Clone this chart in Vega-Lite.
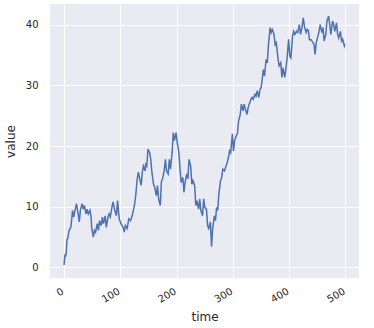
{
  "$schema": "https://vega.github.io/schema/vega-lite/v6.json",
  "width": 309,
  "height": 274,
  "autosize": "none",
  "padding": {"left": 50, "top": 4, "right": 15, "bottom": 50},
  "background": "white",
  "config": {
    "view": {"fill": "#EAEAF2", "stroke": null},
    "font": "DejaVu Sans",
    "axis": {
      "domain": false,
      "ticks": false,
      "grid": true,
      "gridColor": "white",
      "gridWidth": 1,
      "labelColor": "#262626",
      "titleColor": "#262626",
      "labelFontSize": 10,
      "titleFontSize": 12,
      "titleFontWeight": "normal",
      "labelFont": "DejaVu Sans",
      "titleFont": "DejaVu Sans"
    }
  },
  "data": {
    "values": [
      {"time": 0, "value": 0.4}, {"time": 1, "value": 1.5}, {"time": 2, "value": 2.2}, {"time": 3, "value": 1.8},
      {"time": 4, "value": 2.6}, {"time": 5, "value": 4.4}, {"time": 7, "value": 5.0}, {"time": 9, "value": 6.1},
      {"time": 12, "value": 6.6}, {"time": 14, "value": 8.3}, {"time": 15, "value": 9.4}, {"time": 17, "value": 8.3},
      {"time": 20, "value": 9.6}, {"time": 22, "value": 10.5}, {"time": 25, "value": 8.8}, {"time": 27, "value": 7.5},
      {"time": 29, "value": 9.4}, {"time": 32, "value": 10.5}, {"time": 34, "value": 9.6}, {"time": 36, "value": 10.2},
      {"time": 39, "value": 8.8}, {"time": 41, "value": 9.6}, {"time": 43, "value": 8.8}, {"time": 46, "value": 9.4},
      {"time": 48, "value": 8.3}, {"time": 49, "value": 6.6}, {"time": 52, "value": 5.0}, {"time": 54, "value": 6.1},
      {"time": 56, "value": 5.8}, {"time": 59, "value": 7.2}, {"time": 61, "value": 6.1}, {"time": 63, "value": 7.7},
      {"time": 66, "value": 6.9}, {"time": 68, "value": 8.3}, {"time": 70, "value": 7.2}, {"time": 73, "value": 8.5},
      {"time": 75, "value": 6.6}, {"time": 78, "value": 8.3}, {"time": 80, "value": 8.8}, {"time": 82, "value": 8.3},
      {"time": 85, "value": 9.9}, {"time": 87, "value": 10.8}, {"time": 90, "value": 9.4}, {"time": 93, "value": 8.5},
      {"time": 95, "value": 11.0}, {"time": 98, "value": 8.0}, {"time": 101, "value": 7.2}, {"time": 105, "value": 6.6},
      {"time": 107, "value": 5.8}, {"time": 109, "value": 6.9}, {"time": 112, "value": 6.4}, {"time": 115, "value": 8.0},
      {"time": 118, "value": 7.7}, {"time": 121, "value": 8.5}, {"time": 125, "value": 10.2}, {"time": 127, "value": 11.6},
      {"time": 130, "value": 14.6}, {"time": 132, "value": 15.7}, {"time": 134, "value": 14.8}, {"time": 137, "value": 13.5},
      {"time": 139, "value": 15.7}, {"time": 141, "value": 16.7}, {"time": 144, "value": 15.9}, {"time": 145, "value": 17.0},
      {"time": 147, "value": 16.7}, {"time": 149, "value": 19.5}, {"time": 152, "value": 18.9}, {"time": 154, "value": 17.8},
      {"time": 156, "value": 15.7}, {"time": 159, "value": 13.7}, {"time": 161, "value": 13.2}, {"time": 164, "value": 11.8},
      {"time": 166, "value": 13.5}, {"time": 168, "value": 11.3}, {"time": 171, "value": 10.2}, {"time": 173, "value": 14.2},
      {"time": 175, "value": 14.6}, {"time": 178, "value": 16.0}, {"time": 180, "value": 17.8}, {"time": 182, "value": 15.9},
      {"time": 185, "value": 15.4}, {"time": 187, "value": 17.8}, {"time": 189, "value": 16.2}, {"time": 192, "value": 18.9},
      {"time": 194, "value": 22.2}, {"time": 196, "value": 20.9}, {"time": 199, "value": 22.2}, {"time": 201, "value": 20.6},
      {"time": 204, "value": 18.9}, {"time": 206, "value": 16.2}, {"time": 208, "value": 14.0}, {"time": 211, "value": 14.8},
      {"time": 213, "value": 12.4}, {"time": 215, "value": 14.0}, {"time": 218, "value": 15.4}, {"time": 220, "value": 14.6},
      {"time": 222, "value": 17.8}, {"time": 225, "value": 16.7}, {"time": 227, "value": 13.7}, {"time": 229, "value": 14.3},
      {"time": 232, "value": 13.5}, {"time": 234, "value": 10.2}, {"time": 236, "value": 11.0}, {"time": 239, "value": 9.6},
      {"time": 241, "value": 11.3}, {"time": 243, "value": 9.4}, {"time": 246, "value": 8.5}, {"time": 248, "value": 11.3},
      {"time": 250, "value": 9.9}, {"time": 253, "value": 9.6}, {"time": 255, "value": 6.9}, {"time": 257, "value": 6.4},
      {"time": 260, "value": 7.5}, {"time": 262, "value": 3.4}, {"time": 264, "value": 6.4}, {"time": 267, "value": 8.5},
      {"time": 269, "value": 7.7}, {"time": 271, "value": 9.9}, {"time": 273, "value": 9.4}, {"time": 275, "value": 12.1},
      {"time": 278, "value": 14.3}, {"time": 280, "value": 14.8}, {"time": 282, "value": 16.2}, {"time": 285, "value": 15.9},
      {"time": 287, "value": 16.5}, {"time": 289, "value": 17.0}, {"time": 292, "value": 18.1}, {"time": 294, "value": 19.2},
      {"time": 296, "value": 18.9}, {"time": 299, "value": 22.0}, {"time": 301, "value": 19.2}, {"time": 303, "value": 20.9},
      {"time": 306, "value": 21.7}, {"time": 308, "value": 22.0}, {"time": 310, "value": 24.1}, {"time": 313, "value": 25.2},
      {"time": 315, "value": 26.9}, {"time": 318, "value": 25.8}, {"time": 320, "value": 26.9}, {"time": 322, "value": 26.1},
      {"time": 325, "value": 25.2}, {"time": 327, "value": 26.3}, {"time": 329, "value": 26.9}, {"time": 332, "value": 27.7},
      {"time": 334, "value": 28.0}, {"time": 336, "value": 27.7}, {"time": 339, "value": 28.5}, {"time": 341, "value": 28.2},
      {"time": 343, "value": 29.1}, {"time": 346, "value": 28.0}, {"time": 348, "value": 29.3}, {"time": 350, "value": 29.6},
      {"time": 352, "value": 31.0}, {"time": 354, "value": 32.6}, {"time": 356, "value": 31.5}, {"time": 359, "value": 34.3},
      {"time": 361, "value": 33.7}, {"time": 363, "value": 36.5}, {"time": 366, "value": 39.5}, {"time": 368, "value": 38.7},
      {"time": 370, "value": 39.2}, {"time": 373, "value": 38.4}, {"time": 375, "value": 36.7}, {"time": 377, "value": 37.0},
      {"time": 380, "value": 34.5}, {"time": 382, "value": 33.2}, {"time": 385, "value": 33.7}, {"time": 387, "value": 31.3},
      {"time": 389, "value": 32.9}, {"time": 392, "value": 31.3}, {"time": 394, "value": 32.6}, {"time": 396, "value": 34.3},
      {"time": 399, "value": 37.6}, {"time": 401, "value": 34.8}, {"time": 403, "value": 34.5}, {"time": 406, "value": 38.1},
      {"time": 408, "value": 38.9}, {"time": 410, "value": 38.4}, {"time": 413, "value": 38.9}, {"time": 415, "value": 38.7},
      {"time": 418, "value": 40.0}, {"time": 420, "value": 38.4}, {"time": 422, "value": 39.2}, {"time": 425, "value": 41.1},
      {"time": 427, "value": 39.7}, {"time": 430, "value": 38.7}, {"time": 432, "value": 39.2}, {"time": 434, "value": 39.0},
      {"time": 436, "value": 37.5}, {"time": 439, "value": 37.5}, {"time": 441, "value": 37.2}, {"time": 444, "value": 36.8},
      {"time": 446, "value": 35.1}, {"time": 448, "value": 37.0}, {"time": 451, "value": 38.1}, {"time": 453, "value": 38.9},
      {"time": 455, "value": 40.0}, {"time": 458, "value": 38.7}, {"time": 460, "value": 39.5}, {"time": 462, "value": 37.3},
      {"time": 465, "value": 38.4}, {"time": 467, "value": 40.6}, {"time": 470, "value": 41.4}, {"time": 472, "value": 40.0},
      {"time": 474, "value": 38.4}, {"time": 477, "value": 40.6}, {"time": 479, "value": 40.0}, {"time": 481, "value": 38.9},
      {"time": 484, "value": 40.3}, {"time": 486, "value": 38.4}, {"time": 488, "value": 37.8}, {"time": 491, "value": 38.9},
      {"time": 493, "value": 37.3}, {"time": 495, "value": 37.6}, {"time": 498, "value": 36.5}, {"time": 499, "value": 36.8}
    ]
  },
  "mark": {"type": "line", "color": "#4C72B0", "strokeWidth": 1.5, "clip": true},
  "encoding": {
    "x": {
      "field": "time",
      "type": "quantitative",
      "scale": {"domain": [-25, 524], "nice": false, "zero": false},
      "axis": {
        "values": [0, 100, 200, 300, 400, 500],
        "labelAngle": -30,
        "labelAlign": "right",
        "labelBaseline": "top",
        "labelPadding": 8,
        "labelOffset": -4,
        "title": "time",
        "titlePadding": 7
      }
    },
    "y": {
      "field": "value",
      "type": "quantitative",
      "scale": {"domain": [-1.75, 43.4], "nice": false, "zero": false},
      "axis": {
        "values": [0, 10, 20, 30, 40],
        "labelPadding": 12,
        "title": "value",
        "titlePadding": 8
      }
    }
  }
}
